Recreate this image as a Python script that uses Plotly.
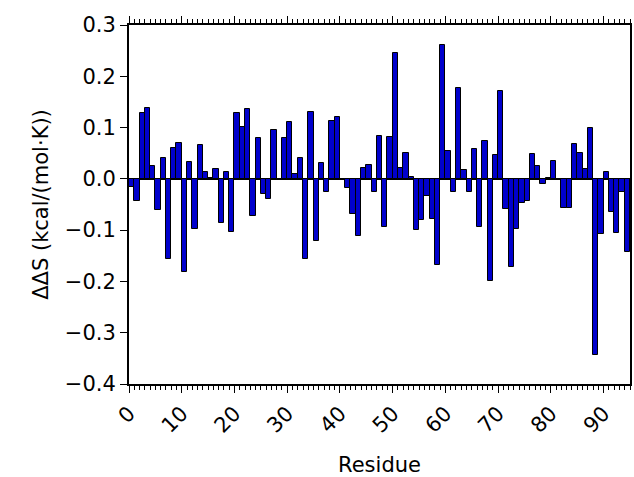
import plotly.graph_objects as go

residues = list(range(95))
dds = [
    -0.015, -0.044, 0.129, 0.139, 0.026, -0.061, 0.040, -0.157, 0.061, 0.070,
    -0.182, 0.032, -0.098, 0.066, 0.014, 0.002, 0.019, -0.087, 0.014, -0.104,
    0.129, 0.102, 0.137, -0.072, 0.080, -0.030, -0.040, 0.096, -0.002, 0.079,
    0.110, 0.010, 0.041, -0.156, 0.131, -0.122, 0.031, -0.025, 0.112, 0.120,
    -0.003, -0.018, -0.068, -0.111, 0.022, 0.027, -0.026, 0.084, -0.094, 0.081,
    0.245, 0.021, 0.051, 0.004, -0.100, -0.081, -0.033, -0.078, -0.168, 0.261,
    0.054, -0.025, 0.178, 0.017, -0.025, 0.059, -0.093, 0.074, -0.199, 0.046,
    0.172, -0.059, -0.172, -0.098, -0.048, -0.043, 0.049, 0.026, -0.010, 0.001,
    0.035, -0.003, -0.056, -0.057, 0.068, 0.051, 0.019, 0.099, -0.343, -0.108,
    0.014, -0.065, -0.106, -0.025, -0.143,
]
xticks = [0, 10, 20, 30, 40, 50, 60, 70, 80, 90]
yticks = [-0.4, -0.3, -0.2, -0.1, 0.0, 0.1, 0.2, 0.3]
ylabels = ["\u22120.4", "\u22120.3", "\u22120.2", "\u22120.1", "0.0", "0.1", "0.2", "0.3"]

fig = go.Figure()
fig.add_trace(go.Bar(
    x=[r + 0.5 for r in residues], y=dds, width=1.0,
    marker=dict(color="#0000cc", line=dict(color="black", width=1)),
))
font = "DejaVu Sans, Verdana, sans-serif"
fig.update_layout(
    width=634, height=477,
    margin=dict(l=129, r=2, t=25, b=93),
    paper_bgcolor="white", plot_bgcolor="white",
    showlegend=False, bargap=0,
    font=dict(family=font, size=21, color="black"),
)
fig.update_xaxes(
    range=[0, 95], tickvals=xticks, ticktext=[str(t) for t in xticks],
    tickangle=-45, ticks="outside", ticklen=7, tickwidth=1, tickcolor="black",
    minor=dict(dtick=1, ticks="outside", ticklen=4, tickwidth=1, tickcolor="black"),
    showline=True, linecolor="black", linewidth=2, mirror="ticks",
    showgrid=False, zeroline=False,
    title=dict(text="Residue", font=dict(size=21), standoff=22),
    tickfont=dict(size=21),
)
fig.update_yaxes(
    range=[-0.4, 0.3], tickvals=yticks, ticktext=ylabels,
    ticks="outside", ticklen=7, tickwidth=1, tickcolor="black",
    showline=True, linecolor="black", linewidth=2, mirror=True,
    showgrid=False, zeroline=True, zerolinecolor="black", zerolinewidth=2,
    title=dict(text="\u0394\u0394S (kcal/(mol\u00b7K))", font=dict(size=21), standoff=10),
    tickfont=dict(size=21),
)
fig.write_html("out.html")
